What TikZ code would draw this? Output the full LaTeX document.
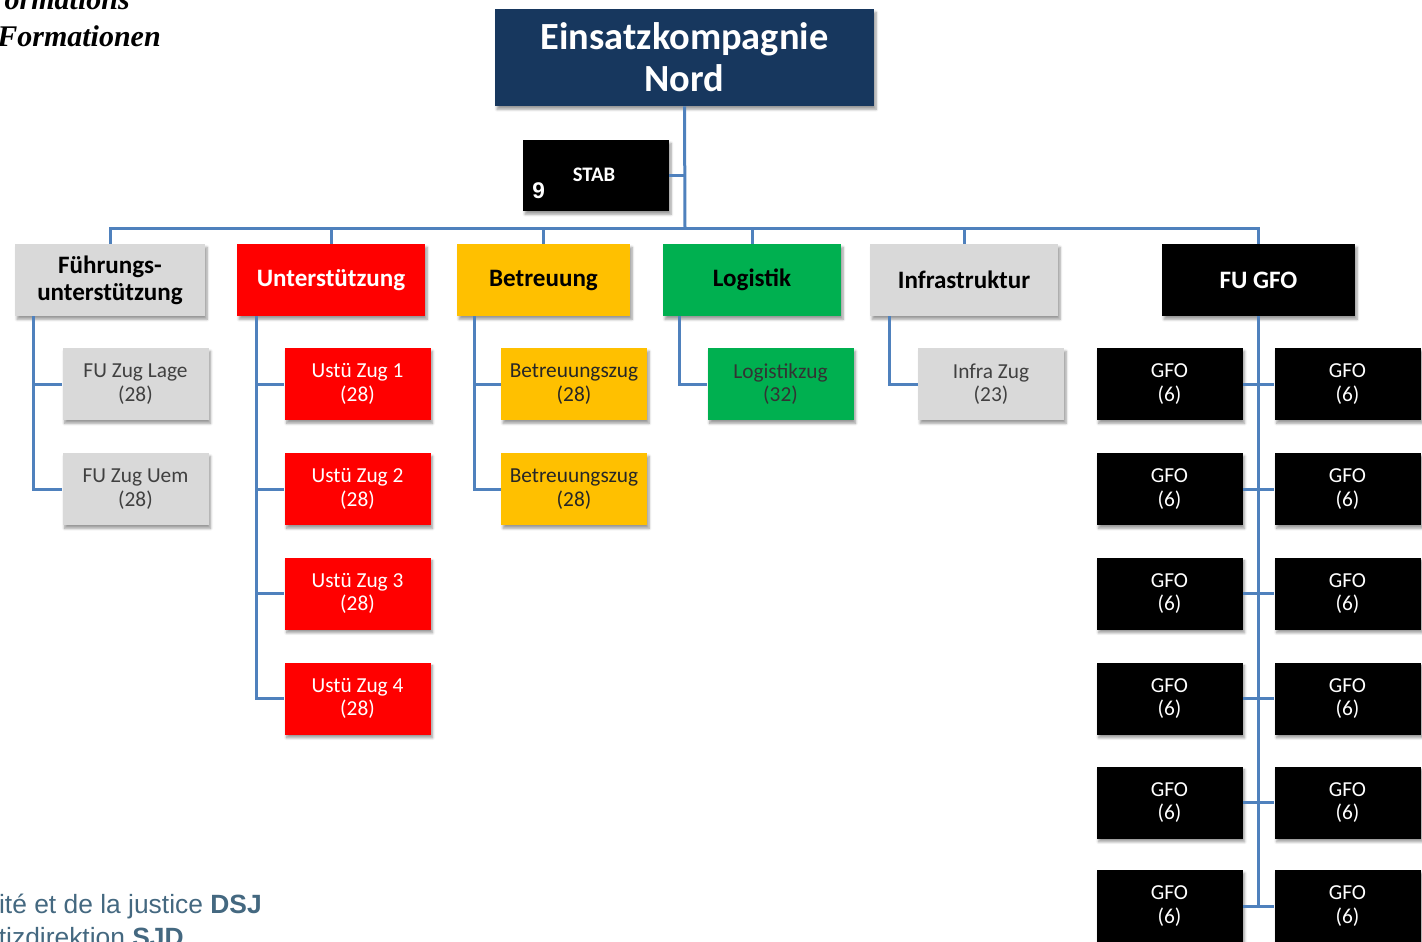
\documentclass[tikz,border=0pt]{standalone}
\usepackage{fontspec}
\setmainfont{Carlito}
\newfontfamily\serifbi{Liberation Serif}
\newfontfamily\arialfam{Liberation Sans}
\usepackage{tikz}
\usetikzlibrary{shadows.blur}

\definecolor{navy}{RGB}{23,55,94}
\definecolor{conncol}{RGB}{79,129,189}
\definecolor{boxgray}{RGB}{217,217,217}
\definecolor{boxred}{RGB}{255,0,0}
\definecolor{boxgold}{RGB}{255,192,0}
\definecolor{boxgreen}{RGB}{0,176,80}
\definecolor{footcol}{RGB}{68,104,128}

\tikzset{
  box/.style={rectangle, inner sep=0pt, align=center, minimum height=54pt,
    blur shadow={shadow xshift=1.5pt, shadow yshift=-2.5pt, shadow blur steps=6, shadow opacity=40}},
  head/.style={box, font=\bfseries\fontsize{18.8}{20.5}\selectfont},
  sub/.style={box, minimum width=109.5pt, font=\fontsize{16}{17.5}\selectfont},
  conn/.style={draw=conncol, line width=2.25pt},
}

\begin{document}
\begin{tikzpicture}[x=0.75pt, y=-0.75pt]
\useasboundingbox (0,0) rectangle (1422,942);
\clip (0,0) rectangle (1422,942);

% top and staff
\node[box, fill=navy, text=white, minimum width=284.25pt, minimum height=72.75pt,
  font=\bfseries\fontsize{28.8}{31.5}\selectfont] (top) at (684.5,57.5) {Einsatzkompagnie\\Nord};
\node[box, fill=black, minimum width=109.5pt, minimum height=53.25pt] (stab) at (596,175.5) {};
\node[text=white, font=\bfseries\fontsize{15.5}{15.5}\selectfont] (stabtxt) at (594,175) {STAB};
\node[text=white, anchor=base west, inner sep=0pt, font=\arialfam\bfseries\fontsize{17}{17}\selectfont] (stabnum) at (532,199) {9};
\coordinate (bus) at (685,228);

% second level
\node[head, fill=boxgray, minimum width=142.5pt] (fu) at (110,280) {Führungs-\\unterstützung};
\node[head, fill=boxred, text=white, minimum width=141pt] (ustu) at (331,280) {Unterstützung};
\node[head, fill=boxgold, minimum width=129.75pt] (betr) at (543.5,280) {Betreuung};
\node[head, fill=boxgreen, minimum width=133.5pt] (logi) at (752,280) {Logistik};
\node[head, fill=boxgray, minimum width=141pt] (infra) at (964,280) {Infrastruktur};
\node[head, fill=black, text=white, minimum width=144.75pt] (fugfo) at (1258.5,280) {FU GFO};

% third level
\node[sub, fill=boxgray, text=black!75] (lage) at (135.5,384) {FU Zug Lage\\(28)};
\node[sub, fill=boxgray, text=black!75] (uem) at (135.5,489) {FU Zug Uem\\(28)};
\foreach \r [count=\i] in {384,489,593.5,698.5}
  \node[sub, fill=boxred, text=white] (ustu\i) at (357.5,\r) {Ustü Zug \i\\(28)};
\node[sub, fill=boxgold, text=black!85] (betr1) at (574,384) {Betreuungszug\\(28)};
\node[sub, fill=boxgold, text=black!85] (betr2) at (574,489) {Betreuungszug\\(28)};
\node[sub, fill=boxgreen, text=black!80] (logzug) at (780.5,384) {Logistikzug\\(32)};
\node[sub, fill=boxgray, text=black!75] (infrazug) at (991,384) {Infra Zug\\(23)};
\foreach \r [count=\i] in {384,489,593.5,698.5,802.5,906} {
  \node[sub, fill=black, text=white] (gfoL\i) at (1169.5,\r) {GFO\\(6)};
  \node[sub, fill=black, text=white] (gfoR\i) at (1347.5,\r) {GFO\\(6)};
}

% lines
\draw[conn] (top.south) -- (bus);
\draw[conn] (stab.east) -- (stab.east -| bus);
\draw[conn] (fu.north) -- (fu.north |- bus) -- (fugfo.north |- bus) -- (fugfo.north);
\foreach \n in {ustu,betr,logi,infra}
  \draw[conn] (\n.north) -- (\n.north |- bus);
\draw[conn] (fu.south west) ++(19,0) |- (lage.west);
\draw[conn] (fu.south west) ++(19,0) |- (uem.west);
\foreach \i in {1,...,4}
  \draw[conn] (ustu.south west) ++(20,0) |- (ustu\i.west);
\foreach \i in {1,2}
  \draw[conn] (betr.south west) ++(18,0) |- (betr\i.west);
\draw[conn] (logi.south west) ++(17,0) |- (logzug.west);
\draw[conn] (infra.south west) ++(20,0) |- (infrazug.west);
\draw[conn] (fugfo.south) -- (fugfo.south |- gfoL6.east);
\foreach \i in {1,...,6}
  \draw[conn] (gfoL\i.east) -- (gfoR\i.west);

% page texts
\node[anchor=base east, inner sep=0pt, font=\serifbi\bfseries\itshape\fontsize{22.5}{22.5}\selectfont] (title1) at (130,10) {ormations};
\node[anchor=base east, inner sep=0pt, font=\serifbi\bfseries\itshape\fontsize{22.5}{22.5}\selectfont] (title2) at (161,47) {Formationen};
\node[anchor=base east, inner sep=0pt, text=footcol, font=\arialfam\fontsize{19.8}{19.8}\selectfont] (foot1) at (262,913) {ité et de la justice \textbf{DSJ}};
\node[anchor=base east, inner sep=0pt, text=footcol, font=\arialfam\fontsize{19.8}{19.8}\selectfont] (foot2) at (184,946) {tizdirektion \textbf{SJD}};
\end{tikzpicture}
\end{document}
